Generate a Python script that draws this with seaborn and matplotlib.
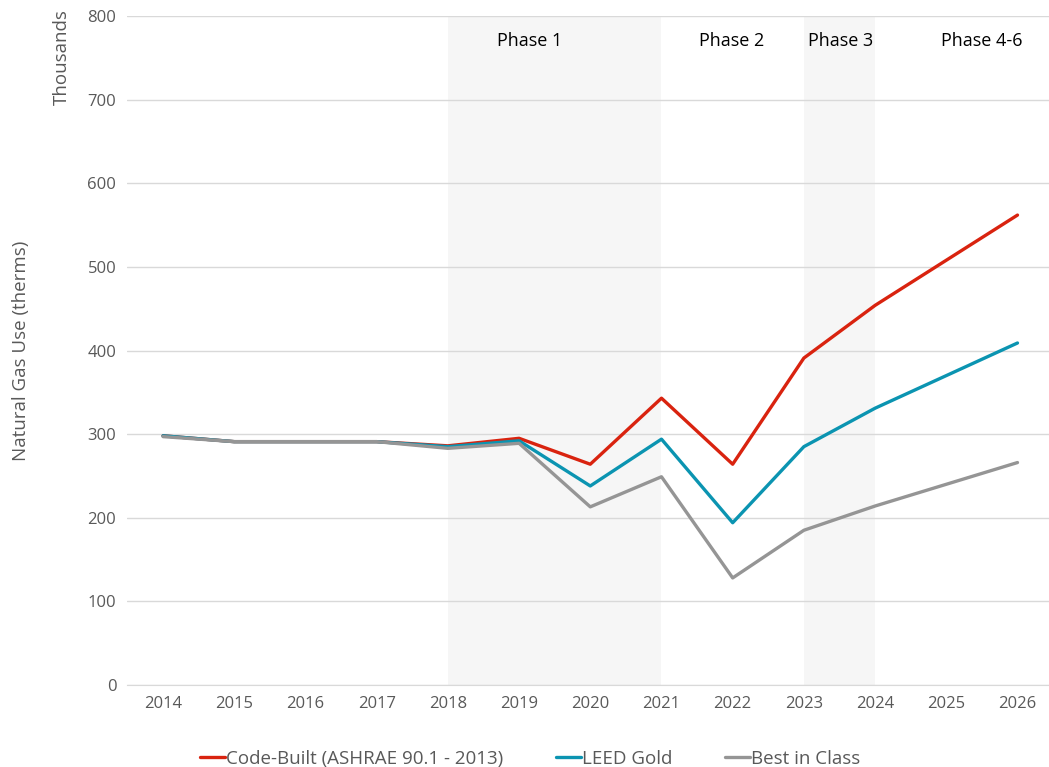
import pandas as pd
import matplotlib.pyplot as plt
import seaborn as sns

years = [str(y) for y in range(2014, 2027)]
code_built = [298, 291, 291, 291, 286, 295, 264, 343, 264, 391, 454, 508, 562]
leed_gold = [298, 291, 291, 291, 285, 292, 238, 294, 194, 285, 331, 370, 409]
best_in_class = [297, 291, 291, 291, 283, 289, 213, 249, 128, 185, 214, 240, 266]

series_names = ['Code-Built (ASHRAE 90.1 - 2013)', 'LEED Gold', 'Best in Class']
series_colors = ['#D9230F', '#0B94B1', '#959595']

phase_labels = ['Phase 1', 'Phase 2', 'Phase 3', 'Phase 4-6']
phase_label_x = [5.15, 7.98, 9.52, 11.5]

df = pd.DataFrame({
    'year': years * 3,
    'value': code_built + leed_gold + best_in_class,
    'series': [series_names[0]] * 13 + [series_names[1]] * 13 + [series_names[2]] * 13,
})

sns.set_style('white')
plt.rcParams['font.family'] = ['Open Sans', 'DejaVu Sans']
text_color = '#595959'

fig = plt.figure(figsize=(10.49, 7.67), dpi=100)
ax = fig.add_axes([0.1215, 0.107, 0.8824, 0.872])

# shaded phases
ax.axvspan(4, 7, color='#f6f6f6', zorder=0, lw=0)
ax.axvspan(9, 10, color='#f6f6f6', zorder=0, lw=0)

sns.lineplot(data=df, x='year', y='value', hue='series', palette=series_colors,
             linewidth=2.4, ax=ax, sort=False, zorder=3)

ax.set_xlim(-0.5, 12.5)
ax.set_ylim(0, 800)
ax.set_yticks(range(0, 801, 100))
ax.yaxis.grid(True, color='#d9d9d9', linewidth=1, zorder=1)
ax.set_axisbelow(True)
for s in ['top', 'right', 'left']:
    ax.spines[s].set_visible(False)
ax.spines['bottom'].set_color('#d9d9d9')
ax.tick_params(axis='both', colors=text_color, labelsize=12, length=0, pad=8)

ax.set_xlabel('')
ax.set_ylabel('Natural Gas Use (therms)', color=text_color, fontsize=13.5)
ax.yaxis.set_label_coords(-0.105, 0.5)
fig.text(0.059, 0.925, 'Thousands', rotation=90, color=text_color, fontsize=13.5,
         ha='center', va='center')

for lbl, xp in zip(phase_labels, phase_label_x):
    ax.text(xp, 770, lbl, ha='center', va='center', fontsize=13, color='black')

handles, labels = ax.get_legend_handles_labels()
ax.legend(handles, labels, loc='upper center', bbox_to_anchor=(0.435, -0.072),
          ncol=3, frameon=False, fontsize=13.5, handlelength=1.35, handletextpad=0.05,
          columnspacing=2.8, labelcolor=text_color)

plt.savefig('out.png', dpi=100, facecolor='white')
